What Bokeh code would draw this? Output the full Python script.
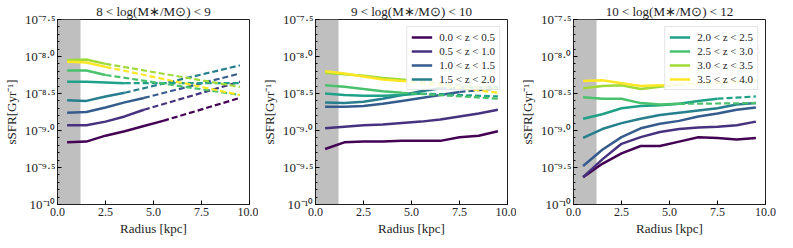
from bokeh.plotting import figure
from bokeh.layouts import row
from bokeh.models import Range1d, FixedTicker, BoxAnnotation, Legend, LegendItem
from bokeh.embed import file_html
from bokeh.resources import INLINE

# ---------------- data ----------------
radius = [0.5, 1.5, 2.5, 3.5, 4.5, 5.5, 6.5, 7.5, 8.5, 9.5]
z_bins = ["0.0 < z < 0.5", "0.5 < z < 1.0", "1.0 < z < 1.5", "1.5 < z < 2.0",
          "2.0 < z < 2.5", "2.5 < z < 3.0", "3.0 < z < 3.5", "3.5 < z < 4.0"]
z_colors = ["#440154", "#46327e", "#365c8d", "#277f8e",
            "#1fa187", "#4ac16d", "#a0da39", "#fde725"]
mass_bins = ["8 < log(M\u2217/M\u2299) < 9", "9 < log(M\u2217/M\u2299) < 10",
             "10 < log(M\u2217/M\u2299) < 12"]

# log10 sSFR [Gyr^-1], measured (solid) part of each profile, one list per z bin
lsfr_m8_9 = [
    [-9.16, -9.15, -9.07, -9.01, -8.94, -8.87],
    [-8.93, -8.93, -8.88, -8.81, -8.72],
    [-8.76, -8.75, -8.69, -8.62, -8.56],
    [-8.59, -8.60, -8.54, -8.49],
    [-8.34, -8.34, -8.35, -8.36],
    [-8.19, -8.19, -8.25],
    [-8.05, -8.04, -8.10],
    [-8.07, -8.08, -8.14],
]
# extrapolated (dashed) value at the outermost radius (None = no extrapolation)
lsfr_m8_9_ext = [-8.56, -8.34, -8.23, -8.12, -8.36, -8.52, -8.41, -8.52]

lsfr_m9_10 = [
    [-9.25, -9.16, -9.15, -9.15, -9.14, -9.14, -9.14, -9.09, -9.07, -9.01],
    [-8.97, -8.95, -8.93, -8.92, -8.90, -8.88, -8.85, -8.81, -8.77, -8.72],
    [-8.68, -8.68, -8.67, -8.64, -8.60, -8.56, -8.52, -8.48],
    [-8.62, -8.63, -8.61, -8.57, -8.52, -8.47, -8.43],
    [-8.50, -8.52, -8.53, -8.53, -8.52, -8.50],
    [-8.39, -8.41, -8.44, -8.47, -8.49],
    [-8.22, -8.24, -8.26, -8.29, -8.31],
    [-8.20, -8.23, -8.27, -8.31, -8.33],
]
lsfr_m9_10_ext = [None, None, -8.43, -8.41, -8.54, -8.57, -8.44, -8.49]

lsfr_m10_12 = [
    [-9.63, -9.45, -9.31, -9.21, -9.21, -9.15, -9.09, -9.10, -9.12, -9.10],
    [-9.63, -9.39, -9.18, -9.09, -9.02, -8.98, -8.96, -8.95, -8.93, -8.88],
    [-9.48, -9.26, -9.09, -8.97, -8.91, -8.87, -8.81, -8.77, -8.72, -8.69],
    [-9.10, -8.98, -8.90, -8.84, -8.79, -8.76, -8.73, -8.70, -8.65, -8.63],
    [-8.84, -8.78, -8.70, -8.67, -8.66, -8.64, -8.60, -8.57],
    [-8.55, -8.57, -8.57, -8.63, -8.65, -8.64],
    [-8.43, -8.40, -8.39, -8.44, -8.41, -8.38],
    [-8.33, -8.32, -8.36, -8.40, -8.39],
]
lsfr_m10_12_ext = [None, None, None, None, -8.54, -8.63, -8.34, -8.32]

mask_radius = 1.2          # shaded inner region [kpc]
x_ticks = [0.0, 2.5, 5.0, 7.5, 10.0]
x_tick_labels = ["0.0", "2.5", "5.0", "7.5", "10.0"]
y_ticks = [-10.0, -9.5, -9.0, -8.5, -8.0, -7.5]
y_tick_labels = ["10\u207b\u00b9\u2070", "10\u207b\u2079\u00b7\u2075", "10\u207b\u2079\u00b7\u2070",
                 "10\u207b\u2078\u00b7\u2075", "10\u207b\u2078\u00b7\u2070", "10\u207b\u2077\u00b7\u2075"]

# ---------------- style ----------------
FONT = "Liberation Serif"
TXT = "#222222"
L, B = 50, 36
FRAME_W = 199
H = 240


def panel(k, data, ext, legend_ids, right_border):
    p = figure(width=L + FRAME_W + right_border, height=H,
               x_range=Range1d(x_ticks[0], x_ticks[-1]),
               y_range=Range1d(y_ticks[0], y_ticks[-1]),
               output_backend="svg", toolbar_location=None,
               min_border_left=L, min_border_right=right_border,
               min_border_top=0, min_border_bottom=B)
    p.grid.visible = False
    p.outline_line_color = "#222222"
    p.outline_line_width = 1
    p.background_fill_color = "white"
    p.border_fill_color = "white"

    p.title.text = mass_bins[k]
    p.title.align = "center"
    p.title.text_font = FONT
    p.title.text_font_size = "13px"
    p.title.text_font_style = "normal"
    p.title.text_color = TXT
    p.title.standoff = 2
    p.title.offset = 0

    p.add_layout(BoxAnnotation(left=0, right=mask_radius, fill_color="#bfbfbf",
                               fill_alpha=1.0, line_alpha=0, level="underlay"))

    items = []
    for i, (vals, end) in enumerate(zip(data, ext)):
        n = len(vals)
        r = p.line(radius[:n], vals, line_color=z_colors[i], line_width=2.5)
        if end is not None:
            p.line([radius[n - 1], radius[-1]], [vals[-1], end],
                   line_color=z_colors[i], line_width=2.2, line_dash="6 3")
        if i in legend_ids:
            items.append(LegendItem(label=z_bins[i], renderers=[r]))

    xa = p.xaxis[0]
    xa.ticker = FixedTicker(ticks=x_ticks)
    xa.major_label_overrides = {float(t): s for t, s in zip(x_ticks, x_tick_labels)}
    xa.axis_label = "Radius [kpc]"
    xa.axis_label_text_font = FONT
    xa.axis_label_text_font_size = "13px"
    xa.axis_label_text_font_style = "normal"
    xa.axis_label_text_color = TXT
    xa.major_label_text_font = FONT
    xa.major_label_text_font_size = "12px"
    xa.major_label_text_color = TXT
    xa.major_tick_in = 4
    xa.major_tick_out = 0
    xa.minor_tick_in = 0
    xa.minor_tick_out = 0
    xa.major_label_standoff = 3
    xa.axis_label_standoff = 2
    xa.axis_line_color = "#222222"

    ya = p.yaxis[0]
    ya.ticker = FixedTicker(ticks=y_ticks,
                            minor_ticks=[round(y_ticks[0] + 0.1 * j, 1) for j in range(26)])
    ya.major_label_overrides = {float(t): s for t, s in zip(y_ticks, y_tick_labels)}
    ya.major_label_text_font = FONT
    ya.major_label_text_font_size = "13px"
    ya.major_label_text_color = TXT
    ya.major_label_standoff = 2
    ya.axis_label = "sSFR[Gyr\u207b\u00b9]"
    ya.axis_label_text_font = FONT
    ya.axis_label_text_font_size = "13px"
    ya.axis_label_text_font_style = "normal"
    ya.axis_label_text_color = TXT
    ya.axis_label_standoff = 3
    ya.major_tick_in = 4
    ya.major_tick_out = 0
    ya.minor_tick_in = 2
    ya.minor_tick_out = 0
    ya.axis_line_color = "#222222"

    if items:
        lg = Legend(items=items, location="top_right")
        lg.label_text_font = FONT
        lg.label_text_font_size = "11px"
        lg.label_text_color = TXT
        lg.glyph_width = 21
        lg.glyph_height = 12
        lg.label_height = 12
        lg.label_standoff = 7
        lg.spacing = 2
        lg.padding = 4
        lg.margin = 7
        lg.border_line_color = "#cccccc"
        lg.border_line_width = 1
        lg.background_fill_alpha = 0.85
        p.add_layout(lg)
    return p


p1 = panel(0, lsfr_m8_9, lsfr_m8_9_ext, [], 9)
p2 = panel(1, lsfr_m9_10, lsfr_m9_10_ext, [0, 1, 2, 3], 9)
p3 = panel(2, lsfr_m10_12, lsfr_m10_12_ext, [4, 5, 6, 7], 14)

layout = row(p1, p2, p3)
open("out.html", "w").write(file_html(layout, INLINE))
